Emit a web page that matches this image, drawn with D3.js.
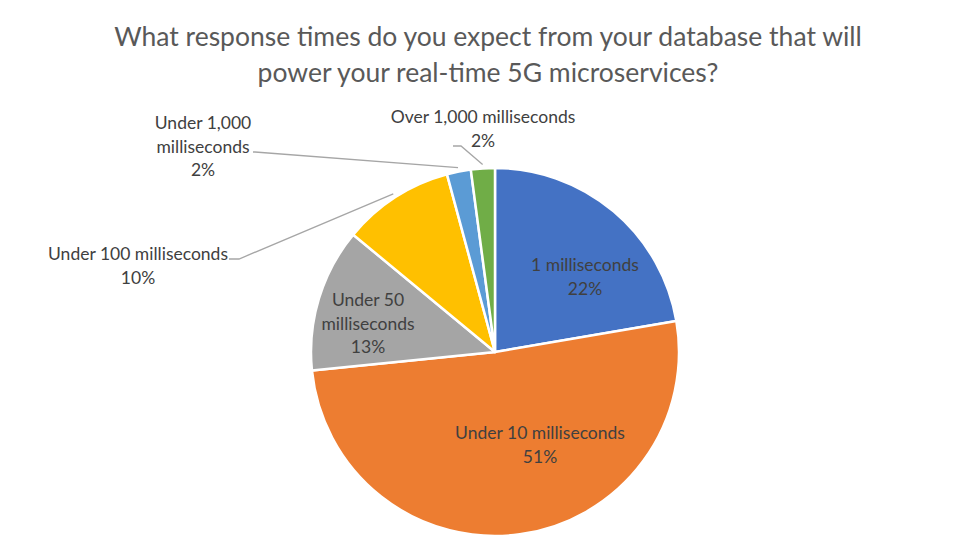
<!DOCTYPE html>
<html lang="en">
<head>
  <meta charset="UTF-8">
  <title>Expected database response times</title>
  <script src="https://d3js.org/d3.v7.min.js"></script>
  <style>
    body { margin: 0; background: #fff; }
    text { font-family: Lato, "Open Sans", sans-serif; }
  </style>
</head>
<body>
  <div id="chart"></div>

  <script>
    // data
    const categories = ["1 milliseconds", "Under 10 milliseconds", "Under 50 milliseconds",
      "Under 100 milliseconds", "Under 1,000 milliseconds", "Over 1,000 milliseconds"];
    const shares = [22.3, 51.1, 12.6, 9.8, 2.1, 2.1];
    const colors = ["#4472C4", "#ED7D31", "#A5A5A5", "#FFC000", "#5B9BD5", "#70AD47"];
    const titleLines = ["What response times do you expect from your database that will",
      "power your real-time 5G microservices?"];

    // label layout: lines of text and first-line baseline
    const labelLines = [
      ["1 milliseconds"],
      ["Under 10 milliseconds"],
      ["Under 50", "milliseconds"],
      ["Under 100 milliseconds"],
      ["Under 1,000", "milliseconds"],
      ["Over 1,000 milliseconds"]
    ];
    const labelPos = [
      { x: 585, y: 271 },
      { x: 540, y: 439 },
      { x: 368, y: 306 },
      { x: 138, y: 260 },
      { x: 203, y: 129 },
      { x: 483, y: 123 }
    ];
    // leader: start point near text and elbow (null = label sits inside)
    const leaders = [null, null, null,
      { x0: 229, y0: 259, x1: 239, y1: 259 },
      { x0: 253, y0: 152, x1: 255, y1: 152 },
      { x0: 453, y0: 146, x1: 461, y1: 146 }];

    const width = 974, height = 558;
    const cx = 495, cy = 352, radius = 184;

    const svg = d3.select("#chart")
      .append("svg")
      .attr("width", width)
      .attr("height", height);

    // title
    svg.append("g").selectAll("text")
      .data(titleLines)
      .enter()
      .append("text")
      .attr("x", 488)
      .attr("y", (d, i) => 46 + i * 36)
      .attr("text-anchor", "middle")
      .attr("font-size", "26.5px")
      .attr("fill", "#595959")
      .text(d => d);

    const g = svg.append("g")
      .attr("transform", `translate(${cx},${cy})`);

    const pie = d3.pie().sort(null).value(d => d);
    const arcs = pie(shares);

    const arc = d3.arc().innerRadius(0).outerRadius(radius);
    const anchorArc = d3.arc().innerRadius(radius + 4).outerRadius(radius + 4);

    g.selectAll("path")
      .data(arcs)
      .enter()
      .append("path")
      .attr("d", arc)
      .attr("fill", (d, i) => colors[i])
      .attr("stroke", "#fff")
      .attr("stroke-width", 2.5)
      .attr("stroke-linejoin", "round");

    // leader lines
    arcs.forEach((d, i) => {
      const l = leaders[i];
      if (!l) return;
      const [ax, ay] = anchorArc.centroid(d);
      svg.append("polyline")
        .attr("points", `${l.x0},${l.y0} ${l.x1},${l.y1} ${cx + ax},${cy + ay}`)
        .attr("fill", "none")
        .attr("stroke", "#A6A6A6")
        .attr("stroke-width", 1.3);
    });

    // data labels
    arcs.forEach((d, i) => {
      const lines = labelLines[i].concat([Math.round(d.data) + "%"]);
      const p = labelPos[i];
      const t = svg.append("text")
        .attr("text-anchor", "middle")
        .attr("font-size", "17.5px")
        .attr("fill", "#404040");
      lines.forEach((s, k) => {
        t.append("tspan")
          .attr("x", p.x)
          .attr("y", p.y + k * 23.5)
          .text(s);
      });
    });
  </script>
</body>
</html>
